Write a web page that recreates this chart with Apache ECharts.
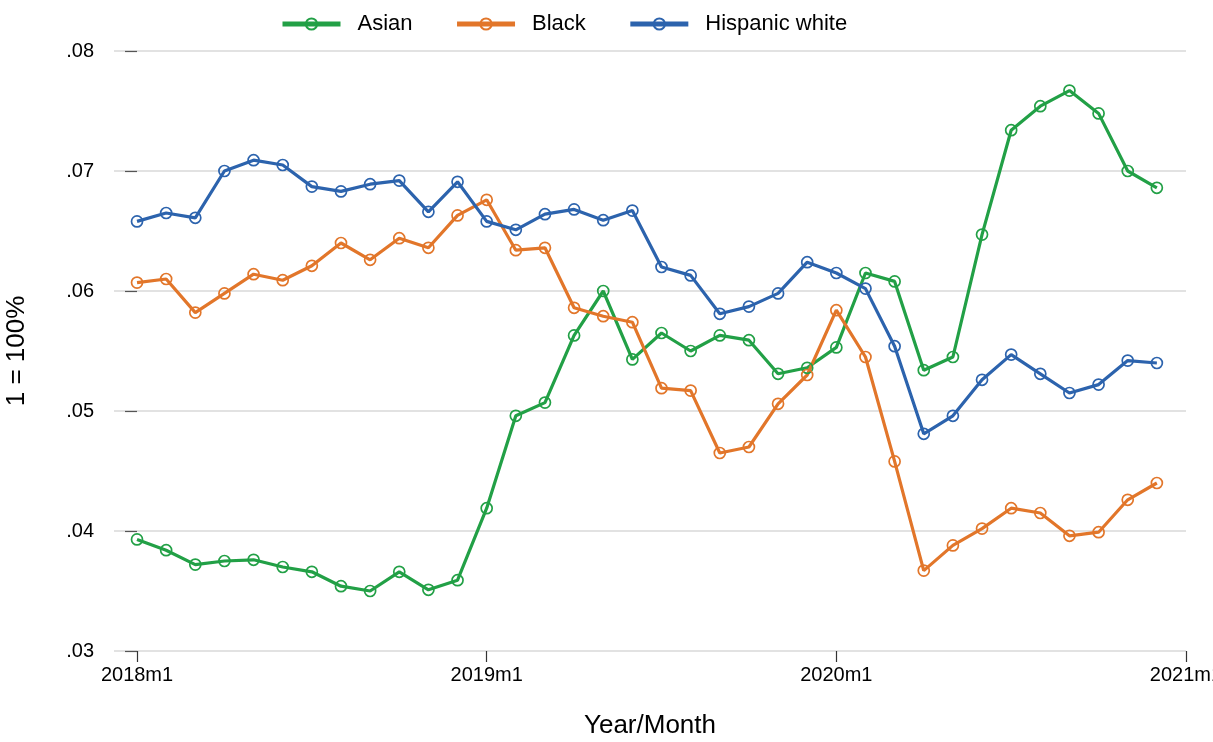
<!DOCTYPE html>
<html>
<head>
<meta charset="utf-8">
<script src="https://cdn.jsdelivr.net/npm/echarts@6/dist/echarts.min.js"></script>
<style>
  html, body { margin: 0; padding: 0; background: #fff; }
  #chart { width: 1213px; height: 742px; }
</style>
</head>
<body>
<div id="chart"></div>
<script>
// Monthly shares, 2018m1 .. 2020m12 (1 = 100%)
const asian = [
  0.0393, 0.0384, 0.0372, 0.0375, 0.0376, 0.0370, 0.0366, 0.0354, 0.0350, 0.0366, 0.0351, 0.0359,
  0.0419, 0.0496, 0.0507, 0.0563, 0.0600, 0.0543, 0.0565, 0.0550, 0.0563, 0.0559, 0.0531, 0.0536,
  0.0553, 0.0615, 0.0608, 0.0534, 0.0545, 0.0647, 0.0734, 0.0754, 0.0767, 0.0748, 0.0700, 0.0686
];
const black = [
  0.0607, 0.0610, 0.0582, 0.0598, 0.0614, 0.0609, 0.0621, 0.0640, 0.0626, 0.0644, 0.0636, 0.0663,
  0.0676, 0.0634, 0.0636, 0.0586, 0.0579, 0.0574, 0.0519, 0.0517, 0.0465, 0.0470, 0.0506, 0.0530,
  0.0584, 0.0545, 0.0458, 0.0367, 0.0388, 0.0402, 0.0419, 0.0415, 0.0396, 0.0399, 0.0426, 0.0440
];
const hispanicWhite = [
  0.0658, 0.0665, 0.0661, 0.0700, 0.0709, 0.0705, 0.0687, 0.0683, 0.0689, 0.0692, 0.0666, 0.0691,
  0.0658, 0.0651, 0.0664, 0.0668, 0.0659, 0.0667, 0.0620, 0.0613, 0.0581, 0.0587, 0.0598, 0.0624,
  0.0615, 0.0602, 0.0554, 0.0481, 0.0496, 0.0526, 0.0547, 0.0531, 0.0515, 0.0522, 0.0542, 0.0540
];
const xTickLabels = ['2018m1', '2019m1', '2020m1', '2021m1'];
const xTickMonths = [0, 12, 24, 36];
const yTicks = [0.03, 0.04, 0.05, 0.06, 0.07, 0.08];

const FONT = '"Liberation Sans", Arial, Helvetica, sans-serif';

function toPoints(arr) {
  return arr.map((v, i) => [i, v]);
}

function lineSeries(name, values, color) {
  return {
    name: name,
    type: 'line',
    data: toPoints(values),
    symbol: 'circle',
    symbolSize: 11,
    showSymbol: true,
    lineStyle: { color: color, width: 3.2 },
    itemStyle: { color: 'rgba(255,255,255,0)', borderColor: color, borderWidth: 1.7 },
    emphasis: { disabled: true },
    z: 2
  };
}

const chart = echarts.init(document.getElementById('chart'), null, { renderer: 'canvas' });

chart.setOption({
  animation: false,
  backgroundColor: '#ffffff',
  textStyle: { fontFamily: FONT },
  legend: {
    top: 8,
    left: 275,
    itemWidth: 58,
    itemHeight: 14,
    itemGap: 42,
    lineStyle: { width: 5 },
    textStyle: { fontFamily: FONT, fontSize: 22, color: '#000', padding: [0, 0, 0, 12] },
    data: ['Asian', 'Black', 'Hispanic white']
  },
  grid: { left: 114, right: 27, top: 51, bottom: 91, containLabel: false, outerBoundsMode: 'none' },
  xAxis: {
    type: 'value',
    min: -0.79,
    max: 36,
    name: 'Year/Month',
    nameLocation: 'middle',
    nameGap: 62,
    nameTextStyle: { fontFamily: FONT, fontSize: 26, color: '#000' },
    axisLine: { show: false },
    splitLine: { show: false },
    axisTick: {
      show: true,
      customValues: xTickMonths,
      length: 11,
      lineStyle: { color: '#333', width: 1.2 }
    },
    axisLabel: {
      customValues: xTickMonths,
      margin: 14,
      fontFamily: FONT,
      fontSize: 20,
      color: '#000',
      formatter: function (v) {
        const idx = xTickMonths.indexOf(Math.round(v));
        return idx >= 0 ? xTickLabels[idx] : '';
      }
    }
  },
  yAxis: {
    type: 'value',
    min: yTicks[0],
    max: yTicks[yTicks.length - 1],
    interval: 0.01,
    name: '1 = 100%',
    nameLocation: 'middle',
    nameGap: 84,
    nameRotate: 90,
    nameTextStyle: { fontFamily: FONT, fontSize: 26, color: '#000' },
    axisLine: { show: false },
    axisTick: { show: true, length: 12, lineStyle: { color: '#555', width: 1.2 } },
    splitLine: { show: true, lineStyle: { color: '#e2e2e2', width: 2 } },
    axisLabel: {
      margin: 20,
      fontFamily: FONT,
      fontSize: 20,
      color: '#000',
      formatter: function (v) {
        return v.toFixed(2).replace(/^0/, '');
      }
    }
  },
  series: [
    lineSeries('Asian', asian, '#22a046'),
    lineSeries('Black', black, '#e2762a'),
    lineSeries('Hispanic white', hispanicWhite, '#2c63ad')
  ]
});
</script>
</body>
</html>
